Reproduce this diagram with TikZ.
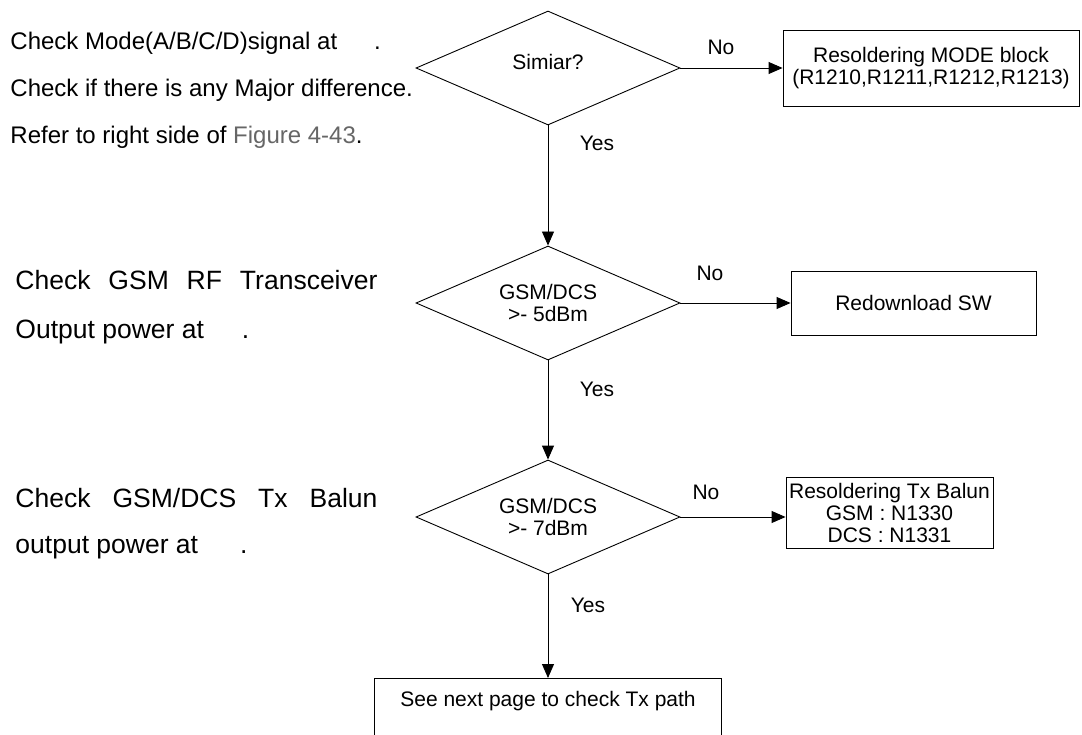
\documentclass[tikz,border=0pt]{standalone}
\usepackage{fontspec}
\setmainfont{Liberation Sans}
\usetikzlibrary{shapes.geometric,arrows.meta}
\definecolor{figgrey}{HTML}{666666}
\tikzset{
  fc/.style={font=\fontsize{21}{22}\selectfont},
  lbl/.style={fc, inner sep=0},
  dec/.style={diamond, draw, fc, align=center, inner sep=0, aspect=2.3,
    minimum width=264pt, minimum height=114pt},
  stepbox/.style={draw, fc, align=center, inner sep=0},
  arr/.style={-{Triangle[length=14pt,width=12pt]}},
  noteA/.style={font=\fontsize{24}{28}\selectfont, inner sep=0, anchor=base west},
  noteB/.style={font=\fontsize{26.5}{30}\selectfont, inner sep=0, anchor=base west},
}
\begin{document}
\begin{tikzpicture}[x=1pt,y=-1pt,line width=0.9pt]
\useasboundingbox (0,0) rectangle (1082,735);
\clip (0,0) rectangle (1082,735);

% left notes
\node[noteA] (t1) at (10,50) {Check Mode(A/B/C/D)signal at\hspace{37pt}.};
\node[noteA] (t2) at (10,97) {Check if there is any Major difference.};
\node[noteA] (t3) at (10,144) {Refer to right side of \textcolor{figgrey}{Figure 4-43}.};
\node[noteB] (t4) at (15,290) {\makebox[362pt][s]{Check GSM RF Transceiver}};
\node[noteB] (t5) at (15,338) {Output power at\hspace{38pt}.};
\node[noteB] (t6) at (15,507) {\makebox[362pt][s]{Check GSM/DCS Tx Balun}};
\node[noteB] (t7) at (15,553) {output power at\hspace{42pt}.};

% decisions
\node[dec] (d1) at (548,68) {Simiar?\\[-10pt]};
\node[dec] (d2) at (548,303) {GSM/DCS\\>- 5dBm};
\node[dec] (d3) at (548,517) {GSM/DCS\\>- 7dBm};

% boxes
\node[stepbox, minimum width=296pt, minimum height=76pt] (b1) at (931,68)
  {Resoldering MODE block\\(R1210,R1211,R1212,R1213)};
\node[stepbox, minimum width=245pt, minimum height=64pt] (b2) at (913.5,303)
  {Redownload SW};
\node[stepbox, minimum width=207pt, minimum height=71pt] (b3) at (889.5,513)
  {Resoldering Tx Balun\\GSM : N1330\\DCS : N1331};
\node[draw, fc, anchor=north, minimum width=347pt, inner ysep=13pt,
  text depth=40pt] (b4) at (548,678) {See next page to check Tx path};

% connectors
\draw[arr] (d1.east) -- (d1.east -| b1.west);
\draw[arr] (d2.east) -- (d2.east -| b2.west);
\draw[arr] (d3.east) -- (d3.east -| b3.west);
\draw[arr] (d1.south) -- (d2.north);
\draw[arr] (d2.south) -- (d3.north);
\draw[arr] (d3.south) -- (b4.north);

% labels
\node[lbl] (n1) at (721,47) {No};
\node[lbl] (n2) at (710,273) {No};
\node[lbl] (n3) at (706,492) {No};
\node[lbl] (y1) at (597,143) {Yes};
\node[lbl] (y2) at (597,389) {Yes};
\node[lbl] (y3) at (588,605) {Yes};
\end{tikzpicture}
\end{document}
